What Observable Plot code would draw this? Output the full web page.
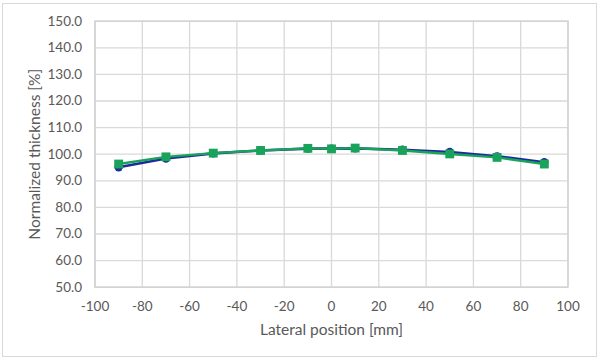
<!DOCTYPE html>
<html>
<head>
<meta charset="utf-8">
<script src="https://cdn.jsdelivr.net/npm/d3@7"></script>
<script src="https://cdn.jsdelivr.net/npm/@observablehq/plot@0.6"></script>
<style>
  html, body { margin: 0; padding: 0; background: #fff; }
  #chart { position: relative; width: 600px; height: 360px; }
  #border { position: absolute; left: 2px; top: 3px; width: 595px; height: 354px; border: 1px solid #d9d9d9; box-sizing: border-box; pointer-events: none; }
  svg { display: block; }
</style>
</head>
<body>
<div id="chart"><div id="border"></div></div>
<script>
const positions = [-90, -70, -50, -30, -10, 0, 10, 30, 50, 70, 90];
const seriesBlue = [95.1, 98.4, 100.3, 101.4, 102.1, 102.1, 102.2, 101.7, 100.8, 99.2, 97.0];
const seriesGreen = [96.3, 99.0, 100.4, 101.4, 102.2, 102.0, 102.3, 101.4, 100.1, 98.8, 96.3];
const xTicks = [-100, -80, -60, -40, -20, 0, 20, 40, 60, 80, 100];
const yTicks = [50, 60, 70, 80, 90, 100, 110, 120, 130, 140, 150];

const blue = positions.map((x, i) => ({x, y: seriesBlue[i]}));
const green = positions.map((x, i) => ({x, y: seriesGreen[i]}));

const chart = Plot.plot({
  width: 600,
  height: 360,
  marginLeft: 94.5,
  marginRight: 32.5,
  marginTop: 20.7,
  marginBottom: 73.3,
  style: {fontFamily: "Lato, sans-serif", fontSize: "13.5px", color: "#595959", background: "transparent"},
  x: {domain: [-100, 100]},
  y: {domain: [50, 150]},
  marks: [
    Plot.gridX(xTicks, {stroke: "#d9d9d9", strokeOpacity: 1, strokeWidth: 1.3}),
    Plot.gridY(yTicks, {stroke: "#d9d9d9", strokeOpacity: 1, strokeWidth: 1.3}),
    Plot.frame({stroke: "#d0d0d0", strokeWidth: 1.3}),
    Plot.axisX({ticks: xTicks, tickSize: 0, tickPadding: 14, tickFormat: d => d3.format("d")(d).replace("−", "-"),
      label: "Lateral position [mm]", labelAnchor: "center", labelArrow: "none", labelOffset: 48, fill: "#595959", fontSize: 13.5}),
    Plot.axisY({ticks: yTicks, tickSize: 0, tickPadding: 13, tickFormat: d => d.toFixed(1),
      label: "Normalized thickness [%]", labelAnchor: "center", labelArrow: "none", labelOffset: 66, fill: "#595959", fontSize: 13.5}),
    Plot.line(blue, {x: "x", y: "y", stroke: "#1c2a9c", strokeWidth: 2.6}),
    Plot.dot(blue, {x: "x", y: "y", r: 4.2, fill: "#1c2a9c", symbol: "circle"}),
    Plot.line(green, {x: "x", y: "y", stroke: "#19a35a", strokeWidth: 2.4}),
    Plot.dot(green, {x: "x", y: "y", r: 5, fill: "#19a35a", symbol: "square"})
  ]
});
chart.querySelectorAll("[aria-label='x-axis label'] text, [aria-label='y-axis label'] text").forEach(t => t.setAttribute("font-size", "15.5px"));
document.getElementById("chart").appendChild(chart);
</script>
</body>
</html>
